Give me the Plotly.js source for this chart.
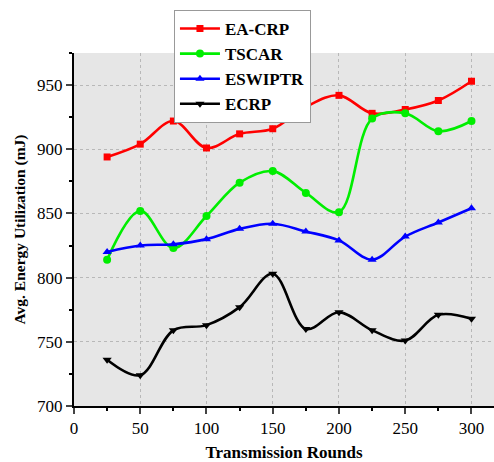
<!DOCTYPE html>
<html><head><meta charset="utf-8">
<script src="https://cdn.plot.ly/plotly-3.0.1.min.js"></script>
<style>html,body{margin:0;padding:0;background:#fff}#c{width:494px;height:462px}</style>
</head><body><div id="c"></div>
<script>
const rounds = [25, 50, 75, 100, 125, 150, 175, 200, 225, 250, 275, 300];
const eacrp = [894, 904, 922, 901, 912, 916, 933, 942, 928, 931, 938, 953];
const tscar = [814, 852, 823, 848, 874, 883, 866, 851, 924, 928, 914, 922];
const eswiptr = [820, 825, 826, 830, 838, 842, 836, 829, 814, 832, 843, 854];
const ecrp = [736, 724, 759, 763, 777, 803, 760, 773, 759, 751, 771, 768];
const xTicks = [0, 50, 100, 150, 200, 250, 300];
const yTicks = [700, 750, 800, 850, 900, 950];

function tr(name, y, color, sym, size) {
  return {x: rounds, y: y, name: name, type: 'scatter', mode: 'lines+markers',
    line: {color: color, width: 2.6, shape: 'spline', smoothing: 1},
    marker: {color: color, symbol: sym, size: size}};
}
const data = [
  tr('EA-CRP', eacrp, '#ff0000', 'square', 7),
  tr('TSCAR', tscar, '#00ee00', 'circle', 8),
  tr('ESWIPTR', eswiptr, '#0000ff', 'triangle-up', 8),
  tr('ECRP', ecrp, '#000000', 'triangle-down', 8)
];
const FAM = 'Liberation Serif, serif';
const layout = {
  width: 494, height: 462,
  margin: {l: 74, r: 0, t: 53, b: 56},
  paper_bgcolor: '#fff', plot_bgcolor: '#e6e6e6',
  font: {family: FAM, size: 16, color: '#000'},
  showlegend: true,
  legend: {x: 0.238, y: 1.122, xanchor: 'left', yanchor: 'top',
    bgcolor: '#fff', bordercolor: '#999', borderwidth: 1,
    font: {family: FAM, size: 17, color: '#000', weight: 'bold'},
    tracegroupgap: 0, itemwidth: 40},
  xaxis: {range: [0, 317], tickvals: xTicks, ticks: 'outside', ticklen: 6, tickwidth: 2,
    showline: true, linecolor: '#000', linewidth: 2, zeroline: false,
    showgrid: true, gridcolor: '#b8b8b8', griddash: 'dot', gridwidth: 1,
    minor: {dtick: 25, ticks: 'outside', ticklen: 3, tickcolor: '#000', showgrid: false},
    tickfont: {family: FAM, size: 17, color: '#000'},
    title: {text: 'Transmission Rounds', font: {family: FAM, size: 17, color: '#000', weight: 'bold'}, standoff: 12}},
  yaxis: {range: [700, 975], tickvals: yTicks, ticks: 'outside', ticklen: 6, tickwidth: 2,
    showline: true, linecolor: '#000', linewidth: 2, zeroline: false,
    showgrid: true, gridcolor: '#b8b8b8', griddash: 'dot', gridwidth: 1,
    minor: {dtick: 25, ticks: 'outside', ticklen: 3, tickcolor: '#000', showgrid: false},
    tickfont: {family: FAM, size: 17, color: '#000'},
    title: {text: 'Avg. Energy Utilization (mJ)', font: {family: FAM, size: 15.5, color: '#000', weight: 'bold'}, standoff: 8}}
};
Plotly.newPlot('c', data, layout, {displayModeBar: false});
</script></body></html>
